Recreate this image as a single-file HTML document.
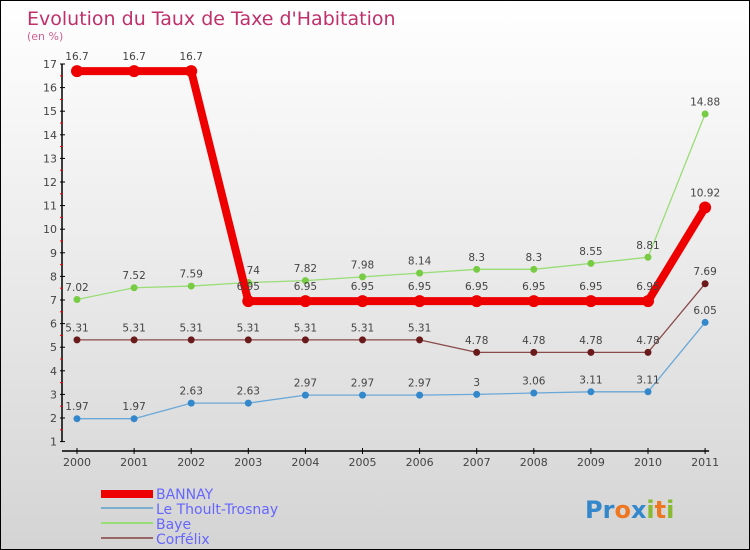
<!DOCTYPE html>
<html><head><meta charset="utf-8"><style>
body{margin:0;}
#wrap{position:relative;width:748px;height:548px;border:1px solid #000;background:linear-gradient(#ffffff,#d4d4d4);font-family:"DejaVu Sans","Liberation Sans",sans-serif;overflow:hidden}
svg{position:absolute;left:0;top:0}
</style></head><body>
<div id="wrap">
<svg id="c" width="748" height="548">
<text x="26" y="24" font-size="19" fill="#c0306a">Evolution du Taux de Taxe d'Habitation</text>
<text x="26" y="39" font-size="11" fill="#d06090">(en %)</text>
<g id="axes"></g><g id="series"></g>
<g>
<rect x="100" y="489" width="52" height="8" fill="#ee0000"/>
<text x="155" y="498" font-size="14" fill="#6666ff">BANNAY</text>
<rect x="100" y="506" width="52" height="2" fill="#79aed0"/>
<text x="155" y="513" font-size="14" fill="#6666ff">Le Thoult-Trosnay</text>
<rect x="100" y="521" width="52" height="2" fill="#99dd77"/>
<text x="155" y="528" font-size="14" fill="#6666ff">Baye</text>
<rect x="100" y="536" width="52" height="2" fill="#996666"/>
<text x="155" y="543" font-size="14" fill="#6666ff">Corfélix</text>
</g>
<text x="584" y="517" font-size="24" font-weight="bold"><tspan fill="#3388cc">Pr</tspan><tspan fill="#ee7722">o</tspan><tspan fill="#3388cc">x</tspan><tspan fill="#88bb33">i</tspan><tspan fill="#ee7722">t</tspan><tspan fill="#88bb33">i</tspan></text>
</svg>
</div>
<script>
const years=["2000","2001","2002","2003","2004","2005","2006","2007","2008","2009","2010","2011"];
const bannay=[16.7,16.7,16.7,6.95,6.95,6.95,6.95,6.95,6.95,6.95,6.95,10.92];
const thoult=[1.97,1.97,2.63,2.63,2.97,2.97,2.97,3,3.06,3.11,3.11,6.05];
const baye=[7.02,7.52,7.59,7.74,7.82,7.98,8.14,8.3,8.3,8.55,8.81,14.88];
const corfelix=[5.31,5.31,5.31,5.31,5.31,5.31,5.31,4.78,4.78,4.78,4.78,7.69];
const bannayLabels=["16.7","16.7","16.7","6.95","6.95","6.95","6.95","6.95","6.95","6.95","6.95","10.92"];
const thoultLabels=["1.97","1.97","2.63","2.63","2.97","2.97","2.97","3","3.06","3.11","3.11","6.05"];
const bayeLabels=["7.02","7.52","7.59","7.74","7.82","7.98","8.14","8.3","8.3","8.55","8.81","14.88"];
const corfelixLabels=["5.31","5.31","5.31","5.31","5.31","5.31","5.31","4.78","4.78","4.78","4.78","7.69"];
const yTicks=[1,2,3,4,5,6,7,8,9,10,11,12,13,14,15,16,17];
const NS="http://www.w3.org/2000/svg";
const X=i=>76+i*57.1;
const Y=v=>417-(v-2)*23.6;
function mk(tag,attrs,parent){const e=document.createElementNS(NS,tag);for(const k in attrs)e.setAttribute(k,attrs[k]);parent.appendChild(e);return e;}
const ax=document.getElementById('axes');
const yl=mk('line',{x1:61,y1:Y(17),x2:61,y2:Y(1),stroke:'#000','stroke-width':1.5},ax);


yTicks.forEach(t=>{
 const tk=mk('line',{x1:59,x2:64,y1:Y(t),y2:Y(t),stroke:'#000'},ax);
 
 
 if(t<17){const m=mk('line',{x1:59,x2:62,y1:Y(t+0.5),y2:Y(t+0.5),stroke:'#e00'},ax);
 
 }
 const tx=mk('text',{x:56,y:Y(t)+4,'font-size':11,fill:'#444','text-anchor':'end'},ax);
 tx.textContent=t;
 
 
});
const xl=mk('line',{x1:61,y1:450,x2:X(11)+4,y2:450,stroke:'#000','stroke-width':1.5},ax);


years.forEach((y,i)=>{
 const tk=mk('line',{x1:X(i),x2:X(i),y1:447,y2:453,stroke:'#000'},ax);
 
 
 const tx=mk('text',{x:X(i),y:465,'font-size':11,fill:'#444','text-anchor':'middle'},ax);
 tx.textContent=y;
 
 
});
const sg=document.getElementById('series');
function draw(name,vals,labels,color,dot,w,r){
 const g=mk('g',{},sg);
 
 
 const pl=mk('polyline',{points:vals.map((v,i)=>X(i)+','+Y(v)).join(' '),fill:'none',stroke:color,'stroke-width':w,'stroke-linejoin':'round'},g);
 
 
 vals.forEach((v,i)=>{
  const c=mk('circle',{cx:X(i),cy:Y(v),r:r,fill:dot},g);
  
  
  const t=mk('text',{x:X(i),y:Y(v)-r-5,'font-size':10.5,fill:'#444','text-anchor':'middle'},g);
  t.textContent=labels[i];
  
  
 });
}
draw('corfelix',corfelix,corfelixLabels,'#8a4a4a','#6a1a1a',1.3,3.5);
draw('thoult',thoult,thoultLabels,'#6aa8d8','#3388cc',1.3,3.5);
draw('baye',baye,bayeLabels,'#99dd77','#77cc44',1.3,3.5);
draw('bannay',bannay,bannayLabels,'#ee0000','#ee0000',8,6);
</script>
</body></html>
